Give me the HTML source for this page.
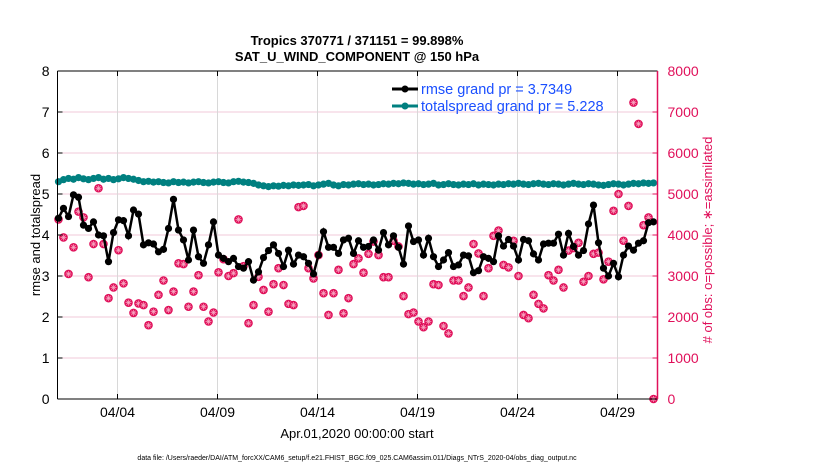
<!DOCTYPE html>
<html><head><meta charset="utf-8"><style>
body{margin:0;background:#fff;font-family:"Liberation Sans",sans-serif}
svg text{font-family:"Liberation Sans",sans-serif}
</style></head><body>
<svg id="chart" width="830" height="470" viewBox="0 0 830 470" xmlns="http://www.w3.org/2000/svg">
<rect width="830" height="470" fill="#fff"/>
<text x="357" y="45" text-anchor="middle" font-size="13" font-weight="bold">Tropics 370771 / 371151 = 99.898%</text>
<text x="357" y="61" text-anchor="middle" font-size="13" font-weight="bold">SAT_U_WIND_COMPONENT @ 150 hPa</text>
<g id="grid"></g>
<g id="obs"></g>
<g id="spread"></g>
<g id="rmse"></g>
<g id="axes"></g>
<text x="357" y="438" text-anchor="middle" font-size="13">Apr.01,2020 00:00:00 start</text>
<text transform="translate(40,235) rotate(-90)" text-anchor="middle" font-size="13">rmse and totalspread</text>
<text transform="translate(712,240) rotate(-90)" text-anchor="middle" font-size="13" fill="#e0105a"># of obs: o=possible; ∗=assimilated</text>
<text x="357" y="460" text-anchor="middle" font-size="7">data file: /Users/raeder/DAI/ATM_forcXX/CAM6_setup/f.e21.FHIST_BGC.f09_025.CAM6assim.011/Diags_NTrS_2020-04/obs_diag_output.nc</text>
<g>
<line x1="392" y1="89" x2="418" y2="89" stroke="#000" stroke-width="3"/>
<circle cx="405" cy="89" r="3.5" fill="#000"/>
<text x="421" y="94" font-size="14.5" fill="#1a4fff">rmse grand pr = 3.7349</text>
<line x1="392" y1="106" x2="418" y2="106" stroke="#008080" stroke-width="3"/>
<circle cx="405" cy="106" r="3.5" fill="#008080"/>
<text x="421" y="111" font-size="14.5" fill="#1a4fff">totalspread grand pr = 5.228</text>
</g>
</svg>
<script>
const rmse=[4.41,4.65,4.45,4.98,4.92,4.24,4.16,4.32,4.0,3.98,3.35,4.06,4.37,4.35,3.98,4.61,4.51,3.76,3.81,3.78,3.59,3.65,4.16,4.87,4.12,3.88,3.39,4.12,3.47,3.31,3.76,4.32,3.51,3.43,3.35,3.43,3.23,3.19,3.35,2.90,3.10,
3.45,3.62,3.76,3.55,3.23,3.63,3.29,3.51,3.47,3.31,3.05,3.51,4.08,3.70,3.70,3.55,3.88,3.92,3.55,3.86,3.70,3.72,3.88,3.63,4.06,3.76,3.98,3.70,3.29,4.22,3.84,3.88,3.51,3.92,3.47,3.23,3.39,3.57,3.23,3.27,
3.51,3.49,3.08,3.13,3.47,3.43,3.35,3.98,3.73,3.89,3.73,3.39,3.89,3.86,3.54,3.39,3.78,3.80,3.80,4.02,3.51,4.04,3.72,3.51,3.62,4.27,4.73,3.81,3.19,3.0,3.31,2.98,3.51,3.73,3.63,3.80,3.86,4.30,4.32];
const spread=[5.30,5.35,5.38,5.36,5.40,5.37,5.35,5.38,5.40,5.36,5.38,5.35,5.37,5.40,5.38,5.36,5.33,5.30,5.31,5.29,5.30,5.28,5.27,5.30,5.28,5.29,5.27,5.29,5.30,5.28,5.27,5.29,5.30,5.28,5.27,5.30,5.31,5.29,5.28,5.26,5.22,5.20,5.18,5.20,5.19,5.21,5.20,5.22,5.21,5.22,5.23,5.20,5.22,5.24,5.26,5.22,5.20,5.23,5.22,5.24,5.25,5.23,5.24,5.22,5.23,5.25,5.24,5.26,5.25,5.27,5.26,5.24,5.25,5.23,5.24,5.26,5.22,5.23,5.25,5.23,5.22,5.24,5.23,5.25,5.22,5.24,5.23,5.22,5.24,5.23,5.25,5.24,5.26,5.24,5.23,5.25,5.26,5.24,5.23,5.25,5.24,5.22,5.24,5.26,5.24,5.23,5.25,5.24,5.22,5.21,5.23,5.25,5.24,5.22,5.24,5.26,5.25,5.27,5.26,5.27];
const obsCount=[4380,3940,3050,3700,4570,4430,2970,3780,5140,3780,2460,2720,3630,2820,2350,2100,2330,2290,1800,2130,2540,2890,2170,2620,3310,3290,2250,2620,3020,2250,1890,2110,3090,3410,3000,3070,4380,3240,1850,2290,2980,2660,
2130,2800,3190,2780,2320,2290,4680,4710,3190,2940,3510,2580,2050,2580,3150,2090,2460,3290,3430,3080,3540,3840,3510,2970,2970,3860,3720,2510,2070,2110,1890,1750,1890,2800,2780,1780,1600,2890,2890,
2510,2720,3780,3550,2510,3190,3980,4110,3270,3210,3860,3000,2050,1970,2540,2320,2210,3020,2890,3150,2720,3620,3680,3810,2860,3000,3540,3570,2920,3350,4590,5000,3860,4710,7230,6710,4240,4430,0];
const leftTicks=[0,1,2,3,4,5,6,7,8];
const rightTicks=[0,1000,2000,3000,4000,5000,6000,7000,8000];
const dateTicks=[3,8,13,18,23,28];
const dateLabels=["04/04","04/09","04/14","04/19","04/24","04/29"];
const X0=57.5,X1=657.5,Y0=399,Y1=71;
const xs=d=>X0+(X1-X0)*d/30;
const yl=v=>Y0-(Y0-Y1)*v/8;
const yr=v=>Y0-(Y0-Y1)*v/8000;
const dayOf=i=>0.05+i*0.25;
const NS="http://www.w3.org/2000/svg";
function mk(tag,attrs,parent){const e=document.createElementNS(NS,tag);for(const k in attrs)e.setAttribute(k,attrs[k]);parent.appendChild(e);return e;}
const grid=document.getElementById('grid'),axes=document.getElementById('axes');
leftTicks.forEach((v,i)=>{
  const g=mk('line',{x1:X0,x2:X1,y1:yl(v),y2:yl(v),stroke:'#f2c8d8','stroke-width':1},grid);
  
  
  const t=mk('text',{x:X0-8,y:yl(v)+5,'text-anchor':'end','font-size':14},axes);t.textContent=v;
  
  
  mk('line',{x1:X0,x2:X0+5,y1:yl(v),y2:yl(v),stroke:'#000'},axes);
  const r=mk('text',{x:X1+10,y:yr(rightTicks[i])+5,'font-size':14,fill:'#e0105a'},axes);r.textContent=rightTicks[i];
  
  
  mk('line',{x1:X1-5,x2:X1,y1:yr(rightTicks[i]),y2:yr(rightTicks[i]),stroke:'#e0105a'},axes);
});
dateTicks.forEach((d,i)=>{
  const g=mk('line',{x1:xs(d),x2:xs(d),y1:Y1,y2:Y0,stroke:'#d8d8d8'},grid);
  
  
  mk('line',{x1:xs(d),x2:xs(d),y1:Y0,y2:Y0-5,stroke:'#000'},axes);
  mk('line',{x1:xs(d),x2:xs(d),y1:Y1,y2:Y1+5,stroke:'#000'},axes);
  const t=mk('text',{x:xs(d),y:Y0+18,'text-anchor':'middle','font-size':14},axes);t.textContent=dateLabels[i];
  
  
});
mk('line',{x1:X0,x2:X1,y1:Y1,y2:Y1,stroke:'#000'},axes);
mk('line',{x1:X0,x2:X1,y1:Y0,y2:Y0,stroke:'#000'},axes);
mk('line',{x1:X0,x2:X0,y1:Y1,y2:Y0,stroke:'#000'},axes);
mk('line',{x1:X1,x2:X1,y1:Y1,y2:Y0,stroke:'#e0105a','stroke-width':1.5},axes);
function star(g,cx,cy,r,col,w){for(let a=0;a<4;a++){const an=a*Math.PI/4;mk('line',{x1:cx-r*Math.cos(an),y1:cy-r*Math.sin(an),x2:cx+r*Math.cos(an),y2:cy+r*Math.sin(an),stroke:col,'stroke-width':w},g);}}
const og=document.getElementById('obs');
obsCount.forEach((v,i)=>{
  const c=mk('circle',{cx:xs(dayOf(i)),cy:yr(v),r:4.3,fill:'#e0105a'},og);
  
  
  star(og,xs(dayOf(i)),yr(v),3,'#f8b0c8',0.7);
});
function series(arr,col,id,name){
  const g=document.getElementById(id);
  const p=mk('polyline',{points:arr.map((v,i)=>xs(dayOf(i))+','+yl(v)).join(' '),fill:'none',stroke:col,'stroke-width':2.5},g);
  
  
  arr.forEach((v,i)=>{
    const c=mk('circle',{cx:xs(dayOf(i)),cy:yl(v),r:3.6,fill:col},g);
    
    
  });
}
series(spread,'#008080','spread','totalspread');
series(rmse,'#000','rmse','rmse');
</script>
</body></html>
